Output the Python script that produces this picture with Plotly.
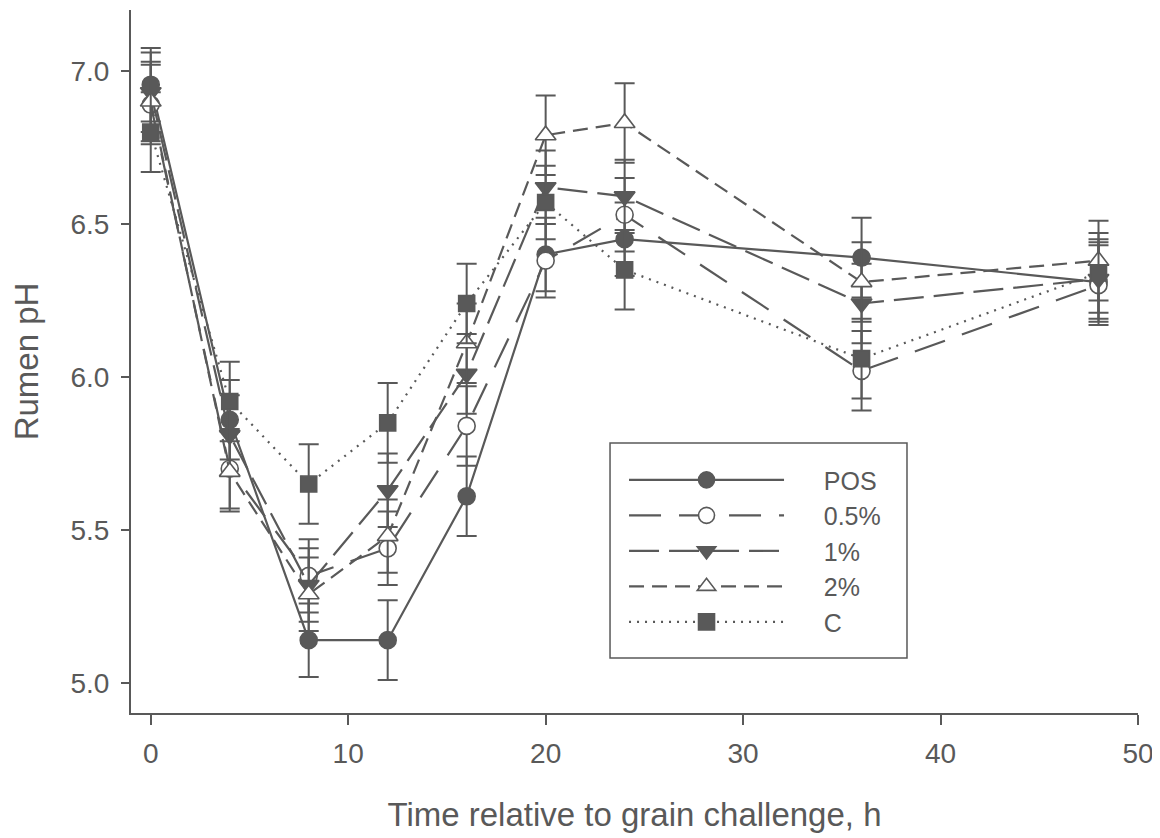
import plotly.graph_objects as go

time_h = [0, 4, 8, 12, 16, 20, 24, 36, 48]

pos_ph = [6.955, 5.86, 5.14, 5.14, 5.61, 6.40, 6.45, 6.39, 6.31]
p05_ph = [6.89, 5.70, 5.35, 5.44, 5.84, 6.38, 6.53, 6.02, 6.30]
p1_ph = [6.93, 5.81, 5.32, 5.63, 6.01, 6.62, 6.59, 6.24, 6.32]
p2_ph = [6.90, 5.69, 5.29, 5.48, 6.11, 6.79, 6.83, 6.31, 6.38]
c_ph = [6.80, 5.92, 5.65, 5.85, 6.24, 6.57, 6.35, 6.06, 6.34]

pos_se = [0.12, 0.13, 0.12, 0.13, 0.13, 0.12, 0.12, 0.13, 0.13]
p05_se = [0.13, 0.13, 0.12, 0.12, 0.13, 0.12, 0.12, 0.13, 0.13]
p1_se = [0.13, 0.13, 0.12, 0.12, 0.13, 0.12, 0.12, 0.13, 0.13]
p2_se = [0.13, 0.13, 0.12, 0.12, 0.13, 0.13, 0.13, 0.13, 0.13]
c_se = [0.13, 0.13, 0.13, 0.13, 0.13, 0.12, 0.13, 0.13, 0.13]

x_ticks = [0, 10, 20, 30, 40, 50]
y_ticks = [5.0, 5.5, 6.0, 6.5, 7.0]

GRAY = "#595959"
FONT = "Liberation Sans, Arial, sans-serif"
PAD = "\u00a0" * 5

series = [
    ("POS", pos_ph, pos_se, "solid", "circle", GRAY, 17),
    ("0.5%", p05_ph, p05_se, "32px,18px", "circle", "white", 17),
    ("1%", p1_ph, p1_se, "30px,10px", "triangle-down", GRAY, 18),
    ("2%", p2_ph, p2_se, "15px,8px", "triangle-up", "white", 18),
    ("C", c_ph, c_se, "2px,6px", "square", GRAY, 16),
]

fig = go.Figure()
for name, y, se, dash, sym, fill, size in series:
    fig.add_trace(go.Scatter(
        x=time_h, y=y, name=PAD + name, mode="lines+markers",
        legendgroup=name,
        line=dict(color=GRAY, width=2.2, dash=dash),
        marker=dict(symbol=sym, size=size, color=fill,
                    line=dict(color=GRAY, width=1.6)),
        error_y=dict(type="data", array=se, visible=True,
                     color=GRAY, thickness=2, width=10),
    ))

# legend frame
fig.add_shape(type="rect", xref="paper", yref="paper",
              x0=0.4757, x1=0.7706, y0=0.0782, y1=0.3841,
              line=dict(color=GRAY, width=1.5), fillcolor="white", layer="above")

fig.update_layout(
    width=1160, height=838,
    paper_bgcolor="white", plot_bgcolor="white",
    margin=dict(l=123, r=30, t=2, b=133),
    font=dict(family=FONT, color=GRAY, size=20),
    showlegend=True,
    legend=dict(
        x=0.4896, y=0.364, xanchor="left", yanchor="top",
        borderwidth=0, bgcolor="rgba(0,0,0,0)",
        font=dict(size=25, color=GRAY, family=FONT),
        itemwidth=155, tracegroupgap=0,
    ),
)
fig.update_xaxes(
    range=[-1.0, 50], tickvals=x_ticks, ticktext=[str(v) for v in x_ticks],
    showline=True, linecolor=GRAY, linewidth=2, showgrid=False, zeroline=False,
    ticks="outside", ticklen=10, tickwidth=1.5, tickcolor=GRAY,
    tickfont=dict(size=28), ticklabelstandoff=4, automargin=False,
    title=dict(text="Time relative to grain challenge, h", font=dict(size=33), standoff=35),
)
fig.update_yaxes(
    range=[4.902, 7.199], tickvals=y_ticks, ticktext=[f"{v:.1f}" for v in y_ticks],
    showline=True, linecolor=GRAY, linewidth=2, showgrid=False, zeroline=False,
    ticks="outside", ticklen=8, tickwidth=1.5, tickcolor=GRAY,
    tickfont=dict(size=28), ticklabelstandoff=6, automargin=False,
    title=dict(text="Rumen pH", font=dict(size=33), standoff=22),
)

fig.write_html("out.html")
